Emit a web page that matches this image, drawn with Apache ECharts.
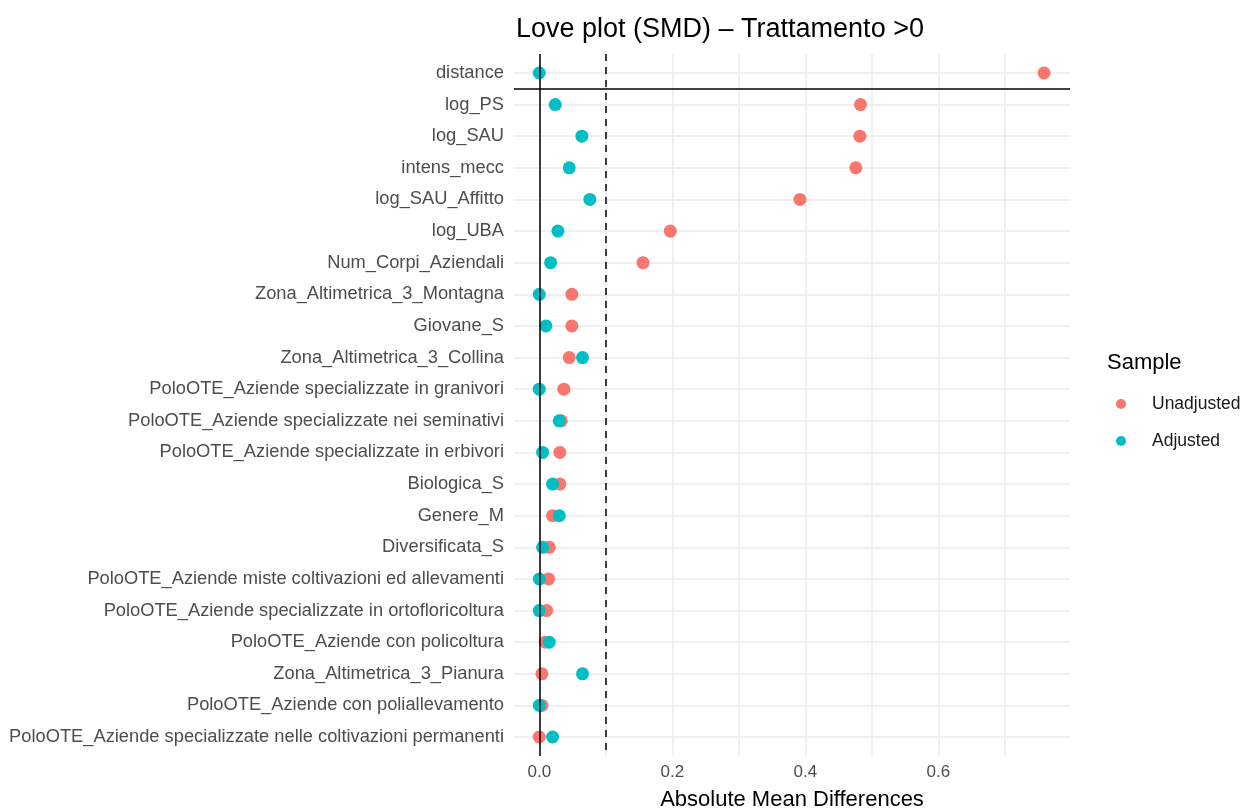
<!DOCTYPE html>
<html><head><meta charset="utf-8">
<script src="https://cdn.jsdelivr.net/npm/echarts@6/dist/echarts.min.js"></script>
<style>html,body{margin:0;padding:0;background:#fff}#c{width:1245px;height:808px}</style>
</head><body><div id="c"></div>
<script>
const categories = [
  "distance",
  "log_PS",
  "log_SAU",
  "intens_mecc",
  "log_SAU_Affitto",
  "log_UBA",
  "Num_Corpi_Aziendali",
  "Zona_Altimetrica_3_Montagna",
  "Giovane_S",
  "Zona_Altimetrica_3_Collina",
  "PoloOTE_Aziende specializzate in granivori",
  "PoloOTE_Aziende specializzate nei seminativi",
  "PoloOTE_Aziende specializzate in erbivori",
  "Biologica_S",
  "Genere_M",
  "Diversificata_S",
  "PoloOTE_Aziende miste coltivazioni ed allevamenti",
  "PoloOTE_Aziende specializzate in ortofloricoltura",
  "PoloOTE_Aziende con policoltura",
  "Zona_Altimetrica_3_Pianura",
  "PoloOTE_Aziende con poliallevamento",
  "PoloOTE_Aziende specializzate nelle coltivazioni permanenti"
];
const unadjusted = [0.759, 0.483, 0.482, 0.476, 0.392, 0.197, 0.156, 0.049, 0.049, 0.045, 0.037, 0.033, 0.031, 0.031, 0.020, 0.015, 0.014, 0.011, 0.009, 0.004, 0.004, 0.000];
const adjusted   = [0.000, 0.024, 0.064, 0.045, 0.076, 0.028, 0.017, 0.000, 0.010, 0.065, 0.000, 0.030, 0.005, 0.020, 0.030, 0.005, 0.000, 0.000, 0.015, 0.065, 0.000, 0.020];
const xTickLabels = [0, 0.2, 0.4, 0.6];
const xGridValues = [0, 0.1, 0.2, 0.3, 0.4, 0.5, 0.6, 0.7];
const threshold = 0.1;

const chart = echarts.init(document.getElementById('c'), null, {renderer: 'canvas'});
const font = 'Liberation Sans, Arial, sans-serif';
const rowIdx = categories.map((c, i) => i);

chart.setOption({
  animation: false,
  backgroundColor: '#ffffff',
  title: [
    {text: 'Love plot (SMD) \u2013 Trattamento >0', left: 511, top: 11,
     textStyle: {fontFamily: font, fontSize: 27, fontWeight: 'normal', color: '#000'}},
    {text: 'Sample', left: 1102, top: 347,
     textStyle: {fontFamily: font, fontSize: 22, fontWeight: 'normal', color: '#000'}}
  ],
  legend: {
    orient: 'vertical', left: 1111, top: 390,
    itemWidth: 10, itemHeight: 10, itemGap: 19,
    icon: 'circle',
    data: ['Unadjusted', 'Adjusted'],
    textStyle: {fontFamily: font, fontSize: 17.5, color: '#1a1a1a', padding: [0, 0, 0, 21]}
  },
  grid: {left: 514, right: 175, top: 54, bottom: 52, containLabel: false, outerBoundsMode: 'none'},
  xAxis: {
    type: 'value', min: -0.038, max: 0.798,
    name: 'Absolute Mean Differences', nameLocation: 'middle', nameGap: 33,
    nameTextStyle: {fontFamily: font, fontSize: 22, color: '#000'},
    axisLine: {show: false}, axisTick: {show: false, customValues: xGridValues},
    axisLabel: {customValues: xTickLabels, fontFamily: font, fontSize: 17, color: '#4d4d4d', margin: 8,
      formatter: v => v.toFixed(1)},
    splitLine: {show: true, lineStyle: {color: '#ebebeb', width: 1.5}}
  },
  yAxis: {
    type: 'value', min: -0.6, max: categories.length - 0.4, inverse: true,
    axisLine: {show: false}, axisTick: {show: false, customValues: rowIdx},
    axisLabel: {customValues: rowIdx, fontFamily: font, fontSize: 18.3, color: '#4d4d4d', margin: 10,
      formatter: v => categories[Math.round(v)]},
    splitLine: {show: true, lineStyle: {color: '#ebebeb', width: 1.5}}
  },
  series: [
    {
      name: 'Unadjusted', type: 'scatter', symbolSize: 13,
      itemStyle: {color: '#F8766D', opacity: 1},
      data: categories.map((c, i) => [unadjusted[i], i]),
      z: 3,
      markLine: {
        silent: true, symbol: 'none', label: {show: false}, animation: false,
        data: [
          {xAxis: 0, lineStyle: {color: '#000', type: 'solid', width: 1.5}},
          {xAxis: threshold, lineStyle: {color: '#000', type: [7, 6], width: 1.5}},
          {yAxis: 0.5, lineStyle: {color: '#000', type: 'solid', width: 1.5}}
        ]
      }
    },
    {
      name: 'Adjusted', type: 'scatter', symbolSize: 13,
      itemStyle: {color: '#00BFC4', opacity: 1},
      data: categories.map((c, i) => [adjusted[i], i]),
      z: 4
    }
  ]
});
</script>
</body></html>
